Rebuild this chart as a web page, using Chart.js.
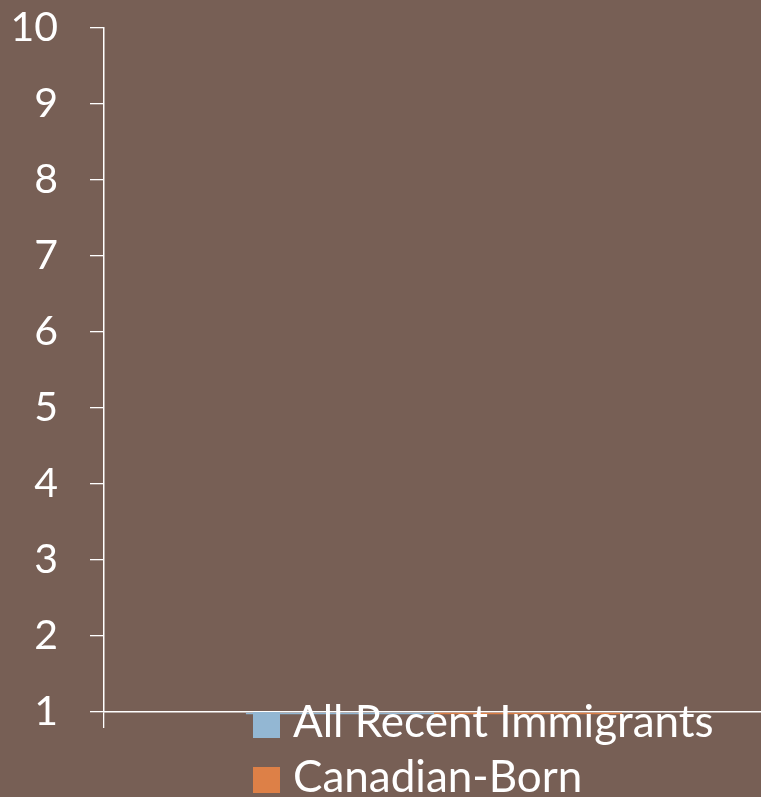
<!DOCTYPE html>
<html>
<head>
<meta charset="utf-8">
<script src="https://cdn.jsdelivr.net/npm/chart.js@4"></script>
<style>
  html, body { margin: 0; padding: 0; background: #775F55; overflow: hidden; }
  #wrap { position: relative; width: 768px; height: 797px; }
  #legend { position: absolute; left: 0; top: 0; }
  .item { position: absolute; left: 253px; font-family: Lato, sans-serif; font-size: 44px; line-height: 1.2; color: #fff; white-space: nowrap; }
  .box { position: absolute; left: 0; width: 27px; height: 26px; }
  .lbl { position: absolute; left: 40px; top: 0; }
</style>
</head>
<body>
<div id="wrap">
  <canvas id="chart-one" width="768" height="797"></canvas>
  <div id="legend"></div>
</div>
<script>
// data
const categories = [''];
const seriesNames = ['All Recent Immigrants', 'Canadian-Born'];
const recentImmigrants = [0.97];
const canadianBorn = [0.97];
const yTicks = [1, 2, 3, 4, 5, 6, 7, 8, 9, 10];

const colors = ['#93B7D3', '#DD8047'];

const ctx = document.getElementById('chart-one').getContext('2d');

const chart = new Chart(ctx, {
    type: 'bar',
    data: {
        labels: categories,
        datasets: [
            { label: seriesNames[0], data: recentImmigrants, backgroundColor: colors[0], base: 1, clip: false, borderWidth: 0 },
            { label: seriesNames[1], data: canadianBorn, backgroundColor: colors[1], base: 1, clip: false, borderWidth: 0 }
        ]
    },
    options: {
        responsive: false,
        animation: false,
        layout: { padding: { top: 28, right: 4, bottom: 0, left: 0 } },
        datasets: { bar: { categoryPercentage: 0.57, barPercentage: 1 } },
        plugins: { legend: { display: false }, tooltip: { enabled: false } },
        scales: {
            x: {
                offset: true,
                grid: { display: true, offset: true, drawOnChartArea: false, tickLength: 16, color: '#fff', lineWidth: 1.3 },
                border: { display: true, color: '#fff', width: 1.5 },
                ticks: { display: false },
                afterFit: s => { s.height = 85; s.paddingLeft = 0; s.paddingRight = 0; }
            },
            y: {
                min: yTicks[0],
                max: yTicks[yTicks.length - 1],
                afterBuildTicks: s => { s.ticks = yTicks.map(v => ({ value: v })); },
                grid: { drawOnChartArea: false, tickLength: 14, color: '#fff', lineWidth: 1.3 },
                border: { display: true, color: '#fff', width: 1.5 },
                ticks: { color: '#fff', padding: 32, font: { family: 'Lato', size: 41 } },
                afterFit: s => { s.width = 104; s.paddingTop = 0; s.paddingBottom = 0; }
            }
        }
    }
});

// legend as html text, stacked under the plot like the original
const legend = document.getElementById('legend');
const tops = [694, 749];
seriesNames.forEach((name, i) => {
    const item = document.createElement('div');
    item.className = 'item';
    item.style.top = tops[i] + 'px';
    item.innerHTML = '<span class="box" style="background:' + colors[i] + ';top:18px"></span><span class="lbl">' + name + '</span>';
    legend.appendChild(item);
});
</script>
</body>
</html>
